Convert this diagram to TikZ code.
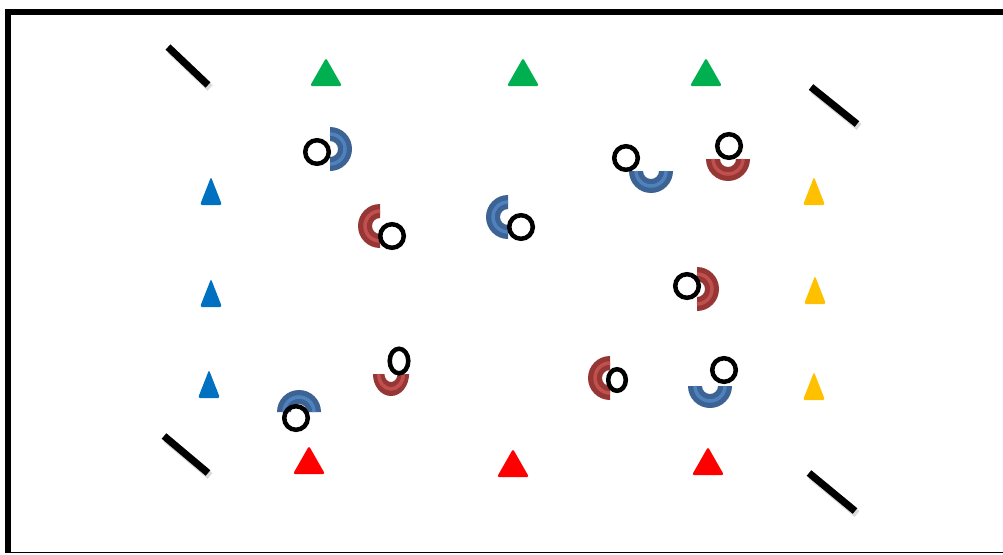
\documentclass[tikz,border=0pt]{standalone}
\usetikzlibrary{calc}
\definecolor{ringblue}{RGB}{60,99,148}
\definecolor{ringbluel}{RGB}{79,129,189}
\definecolor{ringred}{RGB}{150,55,53}
\definecolor{ringredl}{RGB}{192,80,77}
\definecolor{conegreen}{RGB}{0,176,80}
\definecolor{coneblue}{RGB}{0,112,192}
\definecolor{coneyellow}{RGB}{255,192,0}
\definecolor{conered}{RGB}{255,0,0}
\tikzset{
  widecone/.pic={\fill[pic actions, rounded corners=2.2pt] (-16,0) -- (0,28) -- (16,0) -- cycle;},
  narrowcone/.pic={\fill[pic actions, rounded corners=2.2pt] (-11,0) -- (0,28) -- (11,0) -- cycle;},
  bluering/.pic={
    \fill[ringblue] (0,-22) arc[start angle=-90,end angle=90,radius=22] -- (0,8) arc[start angle=90,end angle=-90,radius=8] -- cycle;
    \draw[ringbluel, line width=3.5pt] (0,-15) arc[start angle=-90,end angle=90,radius=15];},
  redring/.pic={
    \fill[ringred] (0,-22) arc[start angle=-90,end angle=90,radius=22] -- (0,8) arc[start angle=90,end angle=-90,radius=8] -- cycle;
    \draw[ringredl, line width=3.5pt] (0,-15) arc[start angle=-90,end angle=90,radius=15];},
  ball/.style={draw=black, line width=4.5pt},
  stick/.style={line width=7.2pt, black},
  stickshadow/.style={line width=7.5pt, black!25, opacity=0.6}
}
\begin{document}
\begin{tikzpicture}[x=1pt,y=1pt]
\useasboundingbox (0,0) rectangle (1003,-554);
% frame
\draw[line width=6pt, miter limit=10] (1003,-12) -- (8,-12) -- (8,-553);
\draw[line width=1.5pt] (5,-552.5) -- (1003,-552.5);
% sticks
\foreach \a/\b/\c/\d in {168/47/208/85, 811/87/857/124, 164/436/208/473, 809/473/855/511}{
  \draw[stickshadow] (\a+2,-\b-3) -- (\c+2,-\d-3);
  \draw[stick] (\a,-\b) -- (\c,-\d);
}
% cones
\foreach \x/\y in {326/86, 523/86, 706/86}{\pic[fill=conegreen] at (\x,-\y) {widecone};}
\foreach \x/\y in {309/474, 513/477, 708/475}{\pic[fill=conered] at (\x,-\y) {widecone};}
\foreach \x/\y in {211/205, 211/307, 209/398}{\pic[fill=coneblue] at (\x,-\y) {narrowcone};}
\foreach \x/\y in {814/205, 815/304, 814/400}{\pic[fill=coneyellow] at (\x,-\y) {narrowcone};}
% rings (half arcs)
\pic[rotate=0] at (330,-149) {bluering};
\pic[rotate=180] at (380,-226) {redring};
\pic[rotate=180] at (508,-217) {bluering};
\pic[rotate=-90] at (651,-171) {bluering};
\pic[rotate=-90] at (728,-159) {redring};
\pic[rotate=0] at (697,-289) {redring};
\pic[rotate=180] at (610,-378) {redring};
\pic[rotate=-90] at (710,-386) {bluering};
\pic[rotate=90] at (299,-412) {bluering};
\pic[rotate=-90, yscale=0.82] at (391,-374) {redring};
% balls
\draw[ball] (317,-152) circle[radius=11.8];
\draw[ball] (392,-236) circle[radius=11.8];
\draw[ball] (521,-227) circle[radius=11.8];
\draw[ball] (626,-158) circle[radius=11.8];
\draw[ball] (729,-146) circle[radius=11.8];
\draw[ball] (687,-286) circle[radius=11.8];
\draw[ball] (617,-380) ellipse[x radius=8.8, y radius=10.8];
\draw[ball] (724,-370) circle[radius=11.8];
\draw[ball] (296,-418) circle[radius=11.8];
\draw[ball] (399,-361) ellipse[x radius=9.3, y radius=12.3];
\end{tikzpicture}
\end{document}
